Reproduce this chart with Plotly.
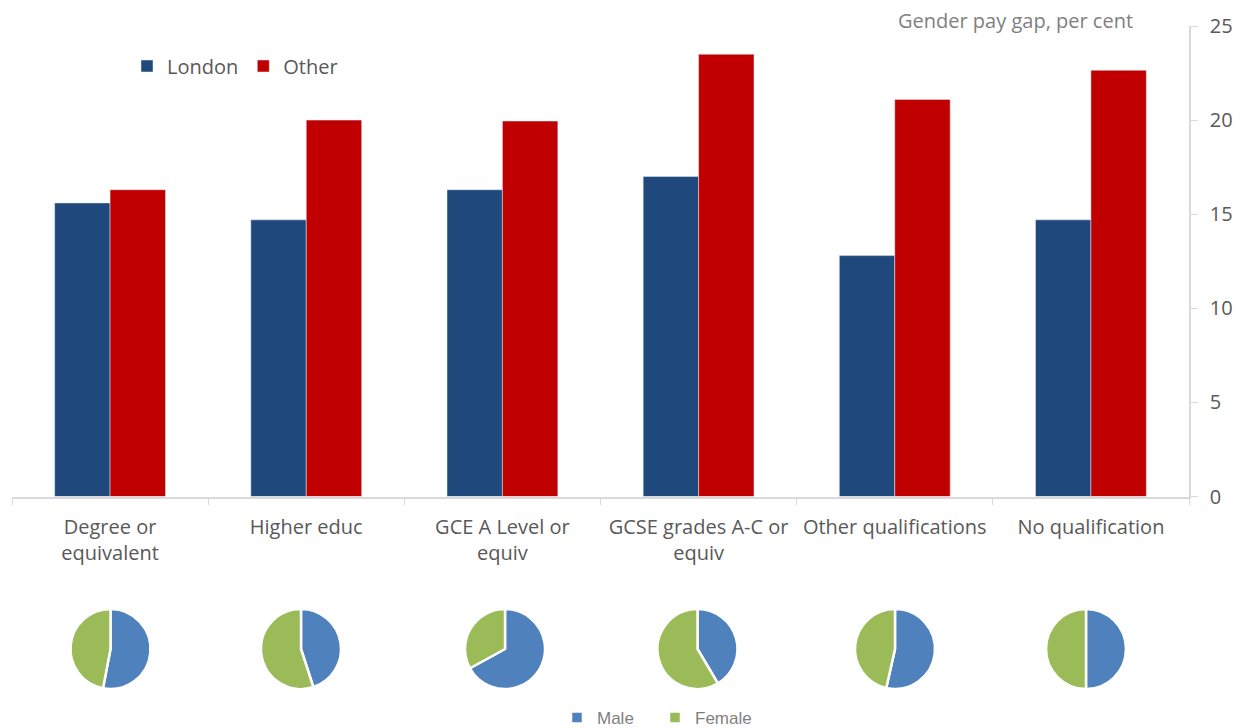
import plotly.graph_objects as go

categories = ["Degree or<br>equivalent", "Higher educ", "GCE A Level or<br>equiv",
              "GCSE grades A-C or<br>equiv", "Other qualifications", "No qualification"]
london = [15.6, 14.7, 16.3, 17.0, 12.8, 14.7]
other = [16.3, 20.0, 19.95, 23.5, 21.1, 22.65]
male_share = [53, 45, 67, 41.5, 53.5, 50]
female_share = [100 - m for m in male_share]
pie_labels = ["Male", "Female"]
tick_vals = [0, 5, 10, 15, 20, 25]

# page offset of the plot div (default body margin)
OFF = 8
W, H = 1236, 728
ML, MR, MT, MB = 4, 55, 18, 0
PW, PH = W - ML - MR, H - MT - MB
FONT = "Open Sans"

def px2x(page_x):
    return (page_x - OFF - ML) / PW

def py2y(page_y):
    return (H - MB + OFF - page_y) / PH

fig = go.Figure()
fig.add_trace(go.Bar(name="London", x=categories, y=london, marker_color="#1F497D", legend="legend"))
fig.add_trace(go.Bar(name="Other", x=categories, y=other, marker_color="#C00000", legend="legend"))

pie_cx = [110.5, 301, 505, 697.5, 895, 1086]
pie_cy = 649
r = 40
for i, cx in enumerate(pie_cx):
    fig.add_trace(go.Pie(
        labels=pie_labels, values=[male_share[i], female_share[i]],
        marker=dict(colors=["#4F81BD", "#9BBB59"], line=dict(color="white", width=2.5)),
        direction="clockwise", sort=False, rotation=0, textinfo="none",
        hoverinfo="label+percent",
        domain=dict(x=[px2x(cx - r), px2x(cx + r)], y=[py2y(pie_cy + r), py2y(pie_cy - r)]),
        showlegend=(i == 0), legend="legend2",
    ))

fig.update_layout(
    width=W, height=H,
    margin=dict(l=ML, r=MR, t=MT, b=MB),
    paper_bgcolor="white", plot_bgcolor="white",
    barmode="group", bargap=0.435, bargroupgap=0,
    font=dict(family=FONT, color="#595959"),
    xaxis=dict(
        showline=True, linecolor="#D9D9D9", linewidth=1.5,
        ticks="outside", tickson="boundaries", ticklen=7, tickcolor="#D9D9D9",
        tickfont=dict(size=20, color="#595959"), showgrid=False,
        ticklabelstandoff=12, anchor="y", automargin=False,
    ),
    yaxis=dict(
        domain=[py2y(496.5), 1], range=[0, 25], side="right",
        tickvals=tick_vals, showline=True, linecolor="#D9D9D9", linewidth=1.5,
        ticks="outside", ticklen=7, tickcolor="#D9D9D9", ticklabelstandoff=8,
        tickfont=dict(size=20, color="#595959"), showgrid=False, zeroline=False,
        automargin=False,
    ),
    legend=dict(
        orientation="h", x=px2x(127), xanchor="left", y=py2y(66), yanchor="middle",
        font=dict(size=20, color="#595959"), bgcolor="rgba(0,0,0,0)",
    ),
    legend2=dict(
        orientation="h", x=px2x(557), xanchor="left", y=0, yanchor="bottom",
        entrywidth=53, entrywidthmode="pixels",
        font=dict(size=17, color="#7F7F7F", family="Liberation Sans"), bgcolor="rgba(0,0,0,0)",
    ),
    annotations=[dict(
        text="Gender pay gap, per cent", xref="paper", yref="paper",
        x=px2x(1135), xanchor="right", y=py2y(20), yanchor="middle",
        showarrow=False, font=dict(size=20, color="#7F7F7F"),
    )],
)

fig.write_html("out.html")
